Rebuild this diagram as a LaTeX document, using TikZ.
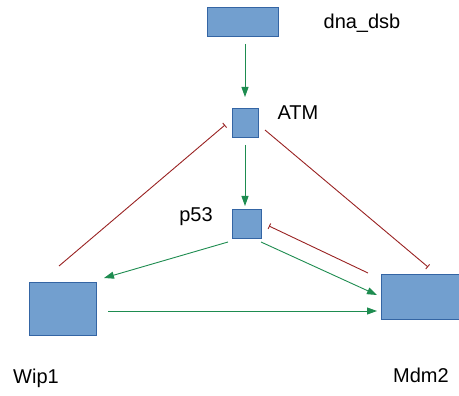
\documentclass[tikz,border=0pt]{standalone}
\usepackage{fontspec}
\setmainfont{Liberation Sans}
\usetikzlibrary{arrows.meta}
\definecolor{boxfill}{HTML}{729FCF}
\definecolor{boxline}{HTML}{3465A4}
\definecolor{actg}{HTML}{1E8C50}
\definecolor{inhr}{HTML}{992222}
\tikzset{
  species/.style={draw=boxline, fill=boxfill, line width=0.8pt, inner sep=0pt},
  lab/.style={font=\fontsize{20}{23}\selectfont, inner sep=0pt},
  act/.style={draw=actg, line width=0.9pt, -{Triangle[length=10pt,width=7pt]}},
  inh/.style={draw=inhr, line width=0.9pt, -{Bar[width=6pt,line width=0.9pt]}}
}
\begin{document}
\begin{tikzpicture}[x=1pt,y=-1pt]
\useasboundingbox (0,0) rectangle (459,396);
\node[species, minimum width=71pt, minimum height=29pt] (dna) at (242.5,21.5) {};
\node[species, minimum width=26pt, minimum height=29pt] (atm) at (245,122.5) {};
\node[species, minimum width=29pt, minimum height=29pt] (p53) at (246.5,223.5) {};
\node[species, minimum width=67pt, minimum height=53pt] (wip) at (62.5,308.5) {};
\node[species, minimum width=84pt, minimum height=45pt] (mdm) at (423,296.5) {};
\node[lab] (ldna) at (362,23) {dna\_dsb};
\node[lab] (latm) at (298,113) {ATM};
\node[lab] (lp53) at (196,217) {p53};
\node[lab] (lwip) at (36,378) {Wip1};
\node[lab] (lmdm) at (421,375) {Mdm2};
% connector ends
\coordinate (a1) at (245,44);   \coordinate (b1) at (245,97);
\coordinate (a2) at (245,145);  \coordinate (b2) at (245,206);
\coordinate (a3) at (59,266);   \coordinate (b3) at (225,125);
\coordinate (a4) at (265,130);  \coordinate (b4) at (428,267);
\coordinate (a5) at (368,273);  \coordinate (b5) at (269,226);
\coordinate (a6) at (228,242);  \coordinate (b6) at (104,278);
\coordinate (a7) at (261,242);  \coordinate (b7) at (377,295);
\coordinate (a8) at (108,311);  \coordinate (b8) at (377,311);
\draw[act] (a1) -- (b1);
\draw[act] (a2) -- (b2);
\draw[inh] (a3) -- (b3);
\draw[inh] (a4) -- (b4);
\draw[inh] (a5) -- (b5);
\draw[act] (a6) -- (b6);
\draw[act] (a7) -- (b7);
\draw[act] (a8) -- (b8);
\end{tikzpicture}
\end{document}
